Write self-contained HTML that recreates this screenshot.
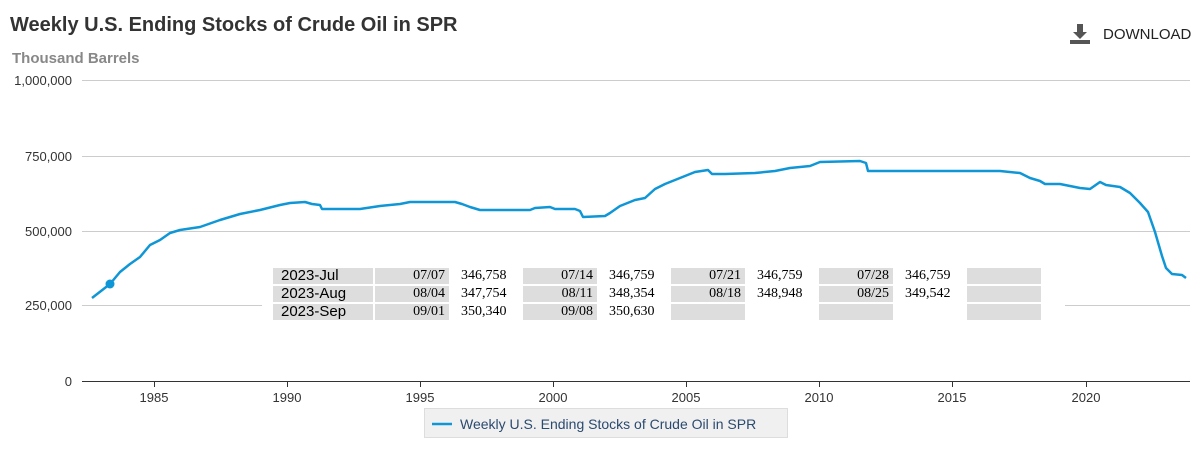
<!DOCTYPE html>
<html><head><style>
body{margin:0;background:#fff;width:1200px;height:450px;overflow:hidden;font-family:"Liberation Sans",Arial,sans-serif;position:relative}
.t{position:absolute;white-space:nowrap}
table{position:absolute;left:271px;top:266px;border-collapse:separate;border-spacing:2px;background:#fff;font-family:"Liberation Serif",serif;font-size:14px;table-layout:fixed}
td{height:16px;padding:0 4px;line-height:16px;overflow:hidden;white-space:nowrap}
td.l{background:#ddd;font-family:"Liberation Sans",sans-serif;width:88px;text-align:left;padding-left:8px;font-size:15px}
td.d{background:#ddd;width:66px;text-align:right}
td.v{width:56px;text-align:left;padding-left:10px}
</style></head><body>
<div class="t" style="left:10px;top:14px;font-size:20px;font-weight:bold;color:#333">Weekly U.S. Ending Stocks of Crude Oil in SPR</div>
<div class="t" style="left:12px;top:50px;font-size:15px;font-weight:bold;color:#888">Thousand Barrels</div>
<svg style="position:absolute;left:1068px;top:22px" width="24" height="24"><rect x="9" y="2" width="6" height="9" fill="#555"/><polygon points="5,10 19,10 12,17" fill="#555"/><rect x="2" y="18" width="20" height="4" fill="#555"/></svg>
<div class="t" style="left:1103px;top:26px;font-size:15px;color:#222">DOWNLOAD</div>
<svg style="position:absolute;left:0;top:0" width="1200" height="450">
<g stroke="#ccc" stroke-width="1">
<line x1="82" y1="80.5" x2="1190" y2="80.5"/><line x1="82" y1="156.5" x2="1190" y2="156.5"/><line x1="82" y1="231.5" x2="1190" y2="231.5"/><line x1="82" y1="305.5" x2="1190" y2="305.5"/></g>
<line x1="82" y1="381.5" x2="1190" y2="381.5" stroke="#333"/>
<g stroke="#333"><line x1="154.5" y1="381" x2="154.5" y2="387"/><line x1="287.5" y1="381" x2="287.5" y2="387"/><line x1="420.5" y1="381" x2="420.5" y2="387"/><line x1="553.5" y1="381" x2="553.5" y2="387"/><line x1="686.5" y1="381" x2="686.5" y2="387"/><line x1="819.5" y1="381" x2="819.5" y2="387"/><line x1="952.5" y1="381" x2="952.5" y2="387"/><line x1="1086.5" y1="381" x2="1086.5" y2="387"/></g>
<g font-size="13" fill="#333" text-anchor="end"><text x="72" y="85">1,000,000</text><text x="72" y="161">750,000</text><text x="72" y="236">500,000</text><text x="72" y="310">250,000</text><text x="72" y="386">0</text></g>
<g font-size="13" fill="#333" text-anchor="middle"><text x="154" y="402">1985</text><text x="287" y="402">1990</text><text x="420" y="402">1995</text><text x="553" y="402">2000</text><text x="686" y="402">2005</text><text x="819" y="402">2010</text><text x="952" y="402">2015</text><text x="1086" y="402">2020</text></g>
<polyline fill="none" stroke="#0f96d6" stroke-width="2.5" stroke-linejoin="round" points="92,298 110,284 120,272 130,264 140,257 150,245 160,240 170,233 180,230 200,227 220,220 240,214 260,210 280,205 290,203 305,202 312,204 320,205 322,209 340,209 360,209 380,206 400,204 410,202 430,202 455,202 462,204 470,207 480,210 500,210 530,210 535,208 550,207 555,209 575,209 580,211 583,217 605,216 610,213 620,206 635,200 645,198 655,189 665,184 675,180 685,176 695,172 708,170 712,174 725,174 755,173 775,171 790,168 810,166 820,162 860,161 866,163 868,171 1000,171 1020,173 1030,178 1040,181 1045,184 1060,184 1080,188 1090,189 1100,182 1106,185 1120,187 1130,193 1140,203 1148,212 1155,232 1162,256 1166,268 1172,274 1182,275 1186,278"/>
<circle cx="110" cy="284" r="4.5" fill="#0f96d6"/>
<rect x="262" y="296" width="803" height="20" fill="#fff"/>
<rect x="424.5" y="408.5" width="363" height="29" fill="#f0f0f0" stroke="#ddd"/>
<line x1="432" y1="424" x2="452" y2="424" stroke="#0f96d6" stroke-width="2.5"/>
<text x="460" y="429" font-size="14" fill="#2b4a6f">Weekly U.S. Ending Stocks of Crude Oil in SPR</text>
</svg>
<table>
<tr><td class="l">2023-Jul</td><td class="d">07/07</td><td class="v">346,758</td><td class="d">07/14</td><td class="v">346,759</td><td class="d">07/21</td><td class="v">346,759</td><td class="d">07/28</td><td class="v">346,759</td><td class="d"></td></tr>
<tr><td class="l">2023-Aug</td><td class="d">08/04</td><td class="v">347,754</td><td class="d">08/11</td><td class="v">348,354</td><td class="d">08/18</td><td class="v">348,948</td><td class="d">08/25</td><td class="v">349,542</td><td class="d"></td></tr>
<tr><td class="l">2023-Sep</td><td class="d">09/01</td><td class="v">350,340</td><td class="d">09/08</td><td class="v">350,630</td><td class="d"></td><td class="v"></td><td class="d"></td><td class="v"></td><td class="d"></td></tr>
</table>
</body></html>
